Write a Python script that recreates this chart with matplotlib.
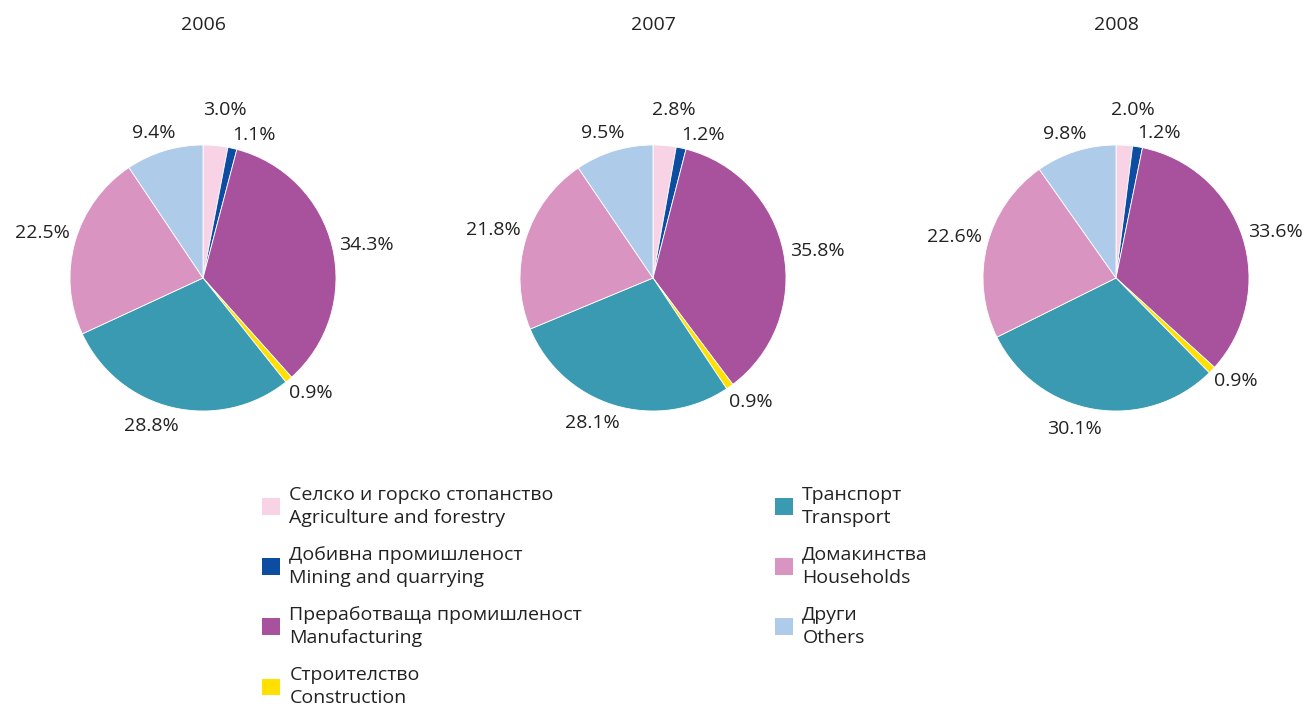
import matplotlib
matplotlib.use("Agg")
import matplotlib.pyplot as plt
from matplotlib.patches import Patch
import numpy as np

plt.rcParams['font.family'] = ['Open Sans', 'DejaVu Sans']

years = ["2006", "2007", "2008"]
sectors_bg = ["Селско и горско стопанство", "Добивна промишленост",
              "Преработваща промишленост", "Строителство",
              "Транспорт", "Домакинства", "Други"]
sectors_en = ["Agriculture and forestry", "Mining and quarrying",
              "Manufacturing", "Construction",
              "Transport", "Households", "Others"]
share_2006 = [3.0, 1.1, 34.3, 0.9, 28.8, 22.5, 9.4]
share_2007 = [2.8, 1.2, 35.8, 0.9, 28.1, 21.8, 9.5]
share_2008 = [2.0, 1.2, 33.6, 0.9, 30.1, 22.6, 9.8]
shares = [share_2006, share_2007, share_2008]

colors = ["#F8D3E6", "#0D4DA1", "#A8529E", "#FFE000",
          "#3A9AB2", "#DA94C1", "#AFCBEA"]

# label nudges per slice: (radius factor, angle offset in deg)
lab_pos = [(1.27, -2), (1.14, -7), (1.25, -2), (1.19, 3),
           (1.18, -6), (1.25, 0), (1.15, 2)]

W, H = 1307, 709
fig = plt.figure(figsize=(W / 100, H / 100), dpi=100)

centers_x = [203, 653, 1116]
cy = 278
r = 133
fs = 14

for i, (yr, vals) in enumerate(zip(years, shares)):
    cx = centers_x[i]
    ax = fig.add_axes([(cx - r) / W, (H - cy - r) / H, 2 * r / W, 2 * r / H])
    wedges, _ = ax.pie(vals, colors=colors, startangle=90, counterclock=False,
                       radius=1, wedgeprops=dict(edgecolor="white", linewidth=0.6))
    ax.set_xlim(-1, 1)
    ax.set_ylim(-1, 1)
    ax.set_aspect("equal")
    for k, w in enumerate(wedges):
        rf, da = lab_pos[k]
        ang = np.deg2rad((w.theta1 + w.theta2) / 2 + da)
        ax.text(rf * np.cos(ang), rf * np.sin(ang), f"{vals[k]:.1f}%",
                ha="center", va="center", fontsize=fs, color="#222222")
    fig.text(cx / W, 1 - 25 / H, yr, ha="center", va="center",
             fontsize=fs, color="#222222")

handles = [Patch(facecolor=c, edgecolor="none") for c in colors]
labels = [f"{b}\n{e}" for b, e in zip(sectors_bg, sectors_en)]
leg = fig.legend(handles, labels, ncol=2, loc="upper left",
                 bbox_to_anchor=(244 / W, 1 - 468 / H), frameon=False,
                 fontsize=fs, handlelength=0.93, handleheight=0.93,
                 handletextpad=0.5, labelspacing=0.95, columnspacing=9.9)
for t in leg.get_texts():
    t.set_linespacing(1.4)
    t.set_color("#222222")

fig.savefig("out.png", dpi=100)
